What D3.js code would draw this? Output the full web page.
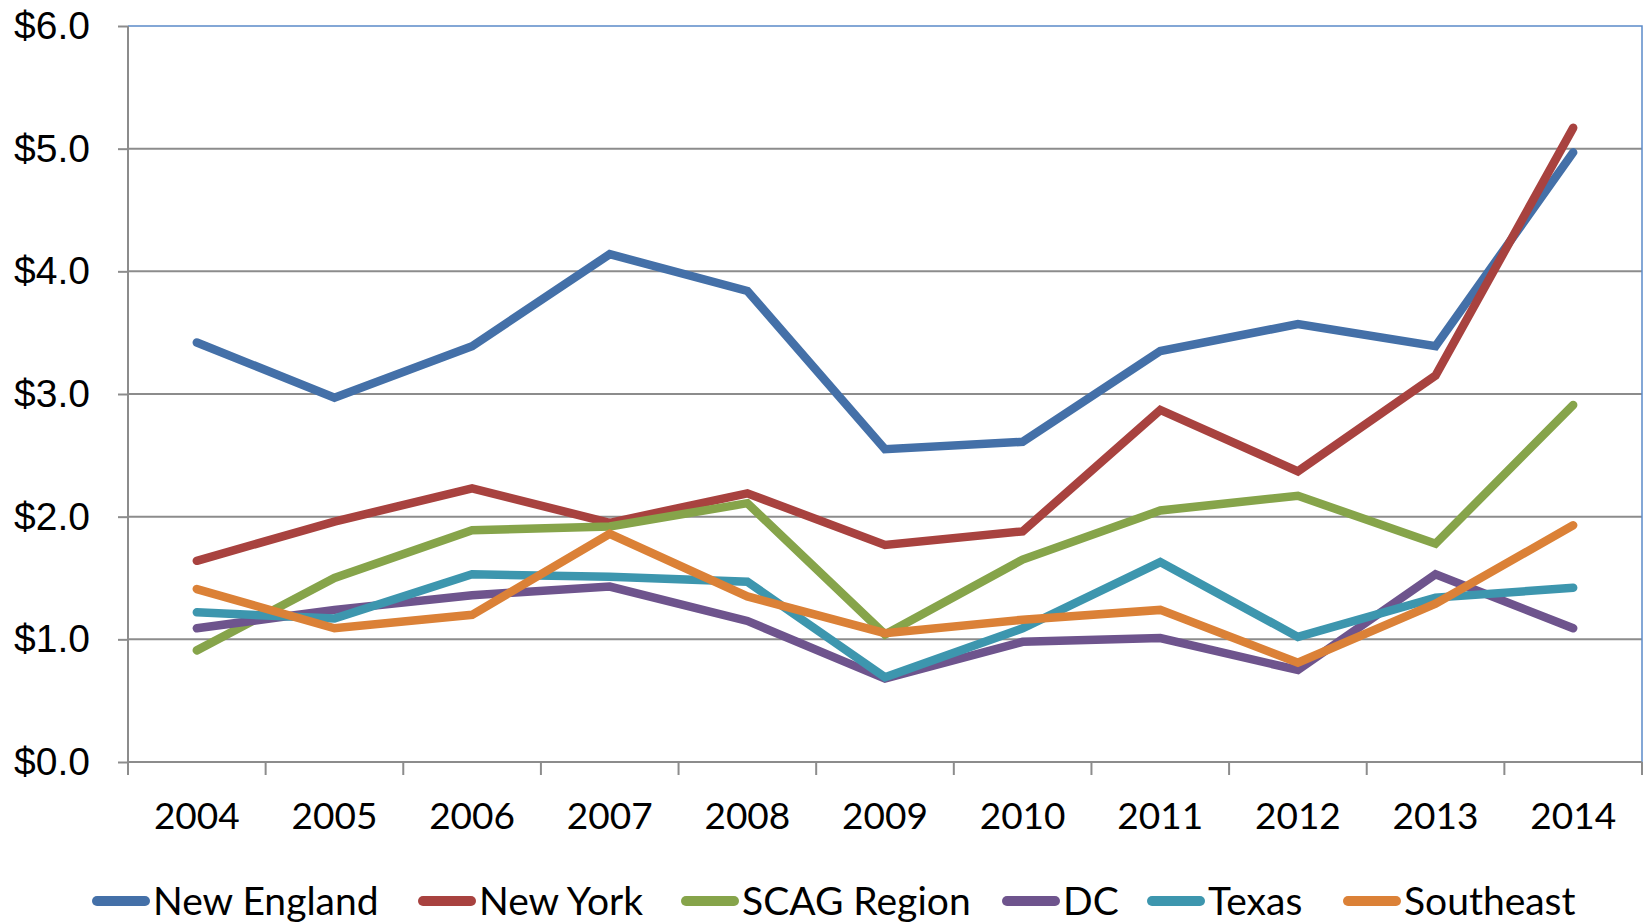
<!DOCTYPE html>
<html lang="en">
<head>
<meta charset="utf-8">
<style>
  body { margin: 0; background: white; }
  svg { font-family: 'Lato', sans-serif; }
  .grid line { stroke: #8c8c8c; stroke-width: 2px; }
  .axis path, .axis line { stroke: #8c8c8c; stroke-width: 2px; }
  .axis text { fill: black; font-size: 37px; }
  .yaxis text { font-size: 39px; }
  .series { fill: none; stroke-width: 8.5px; stroke-linejoin: miter; stroke-linecap: round; }
  .legend text { font-size: 39px; fill: black; }
</style>
</head>
<body>
<svg width="1648" height="922"></svg>
<script src="https://d3js.org/d3.v7.min.js"></script>
<script>
// values, $ billions
const years = ["2004","2005","2006","2007","2008","2009","2010","2011","2012","2013","2014"];
const newEngland = [3.42, 2.97, 3.39, 4.14, 3.84, 2.55, 2.61, 3.35, 3.57, 3.39, 4.97];
const newYork    = [1.64, 1.96, 2.23, 1.95, 2.19, 1.77, 1.88, 2.87, 2.37, 3.15, 5.17];
const scag       = [0.91, 1.50, 1.89, 1.92, 2.11, 1.04, 1.65, 2.05, 2.17, 1.78, 2.91];
const dc         = [1.09, 1.24, 1.36, 1.43, 1.15, 0.68, 0.98, 1.01, 0.75, 1.53, 1.09];
const texas      = [1.22, 1.17, 1.53, 1.51, 1.47, 0.69, 1.09, 1.63, 1.02, 1.34, 1.42];
const southeast  = [1.41, 1.09, 1.20, 1.86, 1.35, 1.05, 1.16, 1.24, 0.81, 1.29, 1.93];
const yTicks = [0, 1, 2, 3, 4, 5, 6];

const seriesNames = ["New England", "New York", "SCAG Region", "DC", "Texas", "Southeast"];
const seriesColors = ["#4470a8", "#a8423f", "#86a44a", "#6e548d", "#3d96ae", "#db8137"];
const seriesValues = [newEngland, newYork, scag, dc, texas, southeast];

const plotLeft = 128, plotRight = 1642, plotTop = 26, plotBottom = 762;
// where each legend entry starts (swatch left edge)
const legendX = [92, 418, 681, 1002, 1147, 1343];

const svg = d3.select("svg");

const x = d3.scaleBand().domain(years).range([plotLeft, plotRight]);
const y = d3.scaleLinear().domain([0, 6]).range([plotBottom, plotTop]);

// gridlines
svg.append("g").attr("class", "grid")
  .selectAll("line").data(yTicks.filter(d => d > 0 && d < 6)).join("line")
  .attr("x1", plotLeft).attr("x2", plotRight)
  .attr("y1", d => y(d)).attr("y2", d => y(d));

// plot border (top and right)
svg.append("path")
  .attr("d", `M${plotLeft},${plotTop}H${plotRight}V${plotBottom}`)
  .attr("fill", "none").attr("stroke", "#5b8bc9").attr("stroke-width", 1.5);

// y axis
const yAxis = svg.append("g").attr("class", "axis yaxis")
  .attr("transform", `translate(${plotLeft},0)`)
  .call(d3.axisLeft(y).tickValues(yTicks).tickFormat(d => "$" + d3.format(".1f")(d))
    .tickSize(10).tickPadding(28));
yAxis.select(".domain").attr("d", `M0,${plotTop}V${plotBottom}`);

// x axis with ticks between categories
const xAxis = svg.append("g").attr("class", "axis")
  .attr("transform", `translate(0,${plotBottom})`);
xAxis.append("line").attr("x1", plotLeft).attr("x2", plotRight);
const bounds = years.map(d => x(d)).concat([plotRight]);
xAxis.selectAll(".tk").data(bounds).join("line").attr("class", "tk")
  .attr("x1", d => d).attr("x2", d => d).attr("y1", 0).attr("y2", 13);
xAxis.selectAll("text").data(years).join("text")
  .attr("x", d => x(d) + x.bandwidth() / 2)
  .attr("y", 67)
  .attr("text-anchor", "middle")
  .text(d => d);

// lines
const line = d3.line()
  .x((d, i) => x(years[i]) + x.bandwidth() / 2)
  .y(d => y(d));

seriesValues.forEach((vals, i) => {
  svg.append("path").attr("class", "series")
    .attr("stroke", seriesColors[i])
    .attr("d", line(vals));
});

// legend
const ly = 901;
const items = svg.append("g").attr("class", "legend")
  .selectAll("g").data(seriesNames).join("g")
  .attr("transform", (d, i) => `translate(${legendX[i]},${ly})`);
items.append("line")
  .attr("x1", 5).attr("x2", 53)
  .attr("stroke", (d, i) => seriesColors[i]).attr("stroke-width", 10).attr("stroke-linecap", "round");
items.append("text")
  .attr("x", 61).attr("y", 14)
  .text(d => d);
</script>
</body>
</html>
